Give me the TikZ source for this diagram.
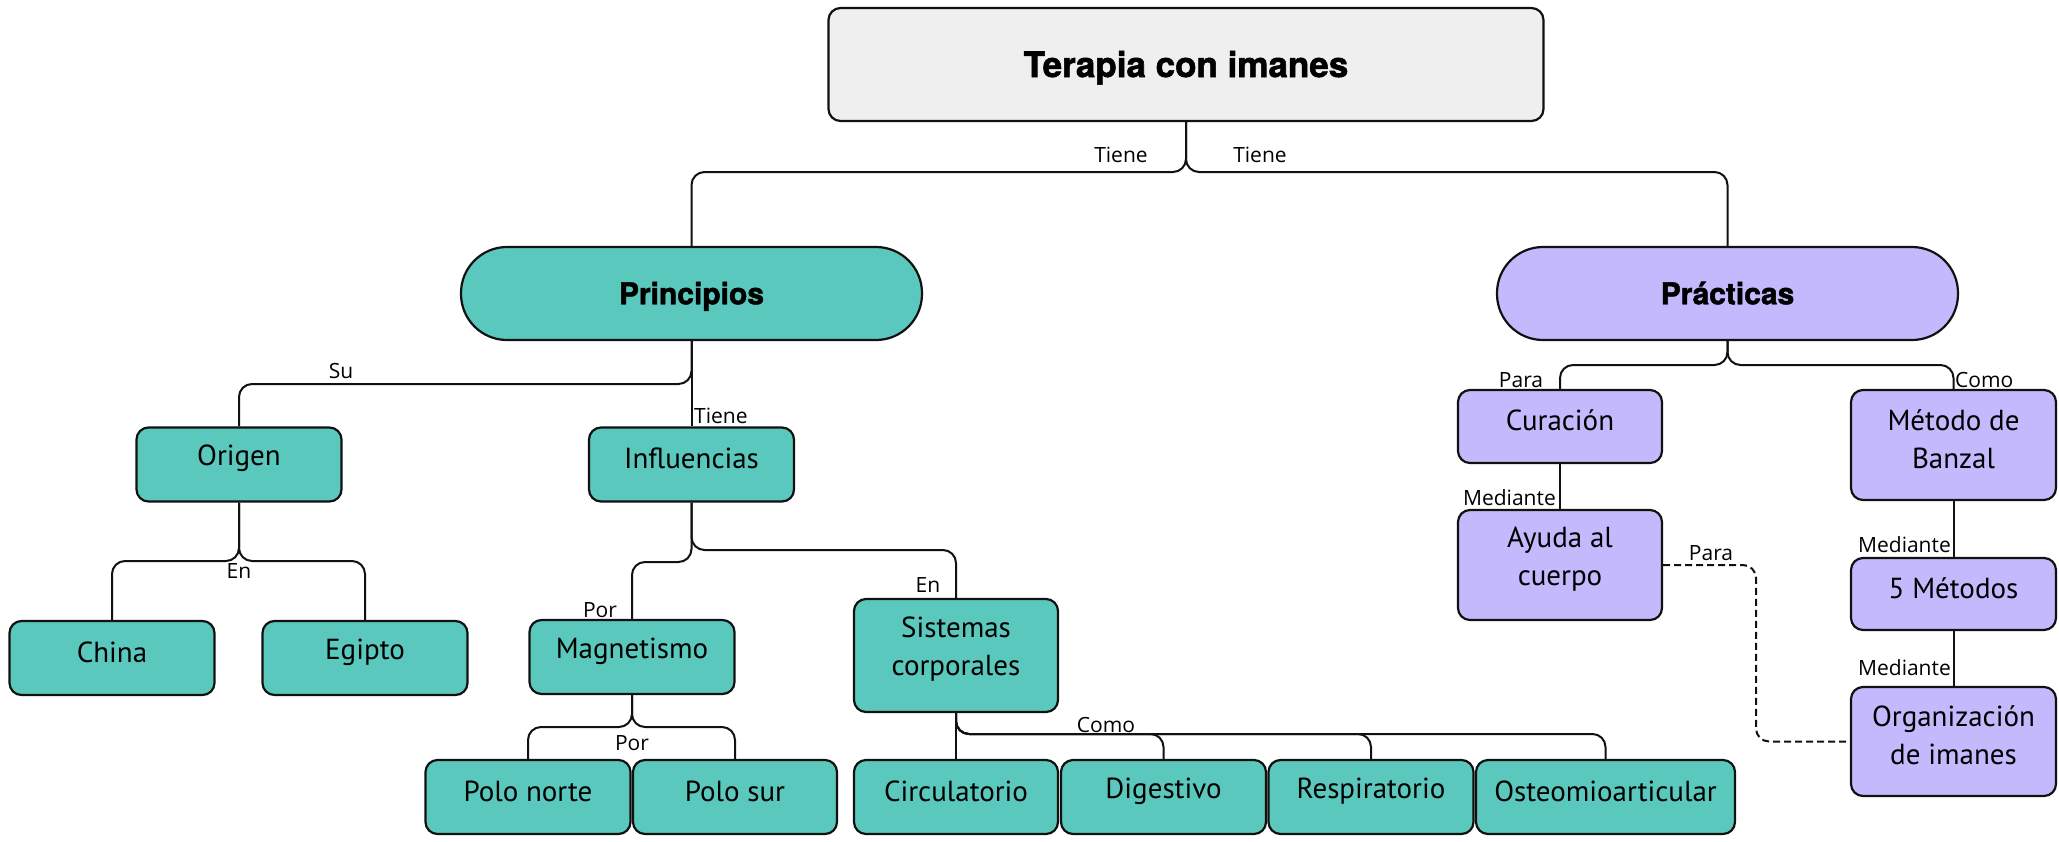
\documentclass[tikz,border=0pt]{standalone}
\usepackage{fontspec}
\setmainfont{PT Sans}
\newfontfamily\lblfont{Open Sans}
\newfontfamily\hdfont{TeX Gyre Heros}[BoldFeatures={FakeBold=1.6}]
\definecolor{tealbox}{HTML}{5BC8BD}
\definecolor{lavbox}{HTML}{C5B9FD}
\definecolor{greybox}{HTML}{EFEFEF}
\definecolor{edgecol}{HTML}{111111}
\tikzset{
  box/.style={draw=edgecol, line width=2.2pt, rounded corners=12pt, minimum width=205pt,
    minimum height=74pt, inner sep=0pt},
  btext/.style={align=center, font=\fontsize{29}{38}\selectfont, yshift=6pt, inner sep=0pt},
  tbox/.style={box, fill=tealbox},
  pbox/.style={box, fill=lavbox},
  stadium/.style={draw=edgecol, line width=2.2pt, rounded corners=46pt, minimum width=461pt,
    minimum height=93pt, inner sep=0pt, text height=21.5pt, text depth=0pt,
    font=\hdfont\bfseries\fontsize{30}{36}\selectfont},
  lbl/.style={font=\lblfont\fontsize{21}{25}\selectfont, inner sep=0pt},
  conn/.style={draw=edgecol, line width=2pt, rounded corners=13pt},
}
\begin{document}
\begin{tikzpicture}[x=1pt,y=-1pt]
\useasboundingbox (0,0) rectangle (2059,841);
% main nodes
\node[box, fill=greybox, minimum width=715pt, minimum height=113pt, text height=25pt, text depth=0pt,
      font=\hdfont\bfseries\fontsize{35}{42}\selectfont] (top) at (1186,64.5) {Terapia con imanes};
\node[stadium, fill=tealbox] (princ) at (691.5,293.5) {Principios};
\node[stadium, fill=lavbox] (prac) at (1727.5,293.5) {Prácticas};
% left side
\node[tbox, label={[btext]center:Origen}] (origen) at (239,464.5) {};
\node[tbox, label={[btext]center:Influencias}] (infl) at (691.5,464.5) {};
\node[tbox, label={[btext]center:China}] (china) at (112,658) {};
\node[tbox, label={[btext]center:Egipto}] (egipto) at (365,658) {};
\node[tbox, label={[btext]center:Magnetismo}] (magn) at (632,657) {};
\node[tbox, minimum width=204pt, minimum height=113pt, label={[btext]center:Sistemas\\corporales}] (sis) at (956,655.5) {};
\node[tbox, label={[btext]center:Polo norte}] (pn) at (528,797) {};
\node[tbox, minimum width=204pt, label={[btext]center:Polo sur}] (ps) at (735,797) {};
\node[tbox, minimum width=204pt, label={[btext]center:Circulatorio}] (circ) at (956,797) {};
\node[tbox, label={[btext]center:Digestivo}] (dig) at (1163.5,797) {};
\node[tbox, label={[btext]center:Respiratorio}] (resp) at (1371,797) {};
\node[tbox, minimum width=259pt, label={[btext]center:Osteomioarticular}] (osteo) at (1605.5,797) {};
% right side
\node[pbox, minimum width=204pt, minimum height=73pt, label={[btext]center:Curación}] (cur) at (1560,426.5) {};
\node[pbox, minimum height=110pt, label={[btext]center:Método de\\Banzal}] (met) at (1953.5,445) {};
\node[pbox, minimum width=204pt, minimum height=110pt, label={[btext]center:Ayuda al\\cuerpo}] (ayu) at (1560,565) {};
\node[pbox, minimum height=72pt, label={[btext]center:5 Métodos}] (cinco) at (1953.5,594) {};
\node[pbox, minimum height=109pt, label={[btext]center:Organización\\de imanes}] (org) at (1953.5,741.5) {};
% connectors
\draw[conn] (top.south) -- (1186,172) -- (691.5,172) -- (princ.north);
\draw[conn] (top.south) -- (1186,172) -- (1727.5,172) -- (prac.north);
\draw[conn] (princ.south) -- (691.5,384) -- (239,384) -- (origen.north);
\draw[conn] (princ.south) -- (infl.north);
\draw[conn] (origen.south) -- (239,561) -- (112,561) -- (china.north);
\draw[conn] (origen.south) -- (239,561) -- (365,561) -- (egipto.north);
\draw[conn] (infl.south) -- (691.5,562) -- (632,562) -- (magn.north);
\draw[conn] (infl.south) -- (691.5,550) -- (956,550) -- (sis.north);
\draw[conn] (magn.south) -- (632,727) -- (528,727) -- (pn.north);
\draw[conn] (magn.south) -- (632,727) -- (735,727) -- (ps.north);
\draw[conn] (sis.south) -- (circ.north);
\draw[conn] (sis.south) -- (956,734) -- (1163.5,734) -- (dig.north);
\draw[conn] (sis.south) -- (956,734) -- (1371,734) -- (resp.north);
\draw[conn] (sis.south) -- (956,734) -- (1605.5,734) -- (osteo.north);
\draw[conn] (prac.south) -- (1727.5,365) -- (1560,365) -- (cur.north);
\draw[conn] (prac.south) -- (1727.5,365) -- (1953.5,365) -- (met.north);
\draw[conn] (cur.south) -- (ayu.north);
\draw[conn] (met.south) -- (cinco.north);
\draw[conn] (cinco.south) -- (org.north);
\draw[conn, dash pattern=on 7pt off 4pt] (ayu.east) -- (1756,565) -- (1756,741.5) -- (org.west);
% connector labels
\node[lbl, anchor=base] (lt1) at (1121,162) {Tiene};
\node[lbl, anchor=base] (lt2) at (1260,162) {Tiene};
\node[lbl, anchor=base] (lsu) at (341,378) {Su};
\node[lbl, anchor=base west] (lt3) at (694,423) {Tiene};
\node[lbl, anchor=base] (len1) at (239,578) {En};
\node[lbl, anchor=base] (lpor1) at (600,617) {Por};
\node[lbl, anchor=base] (len2) at (928,592) {En};
\node[lbl, anchor=base] (lpor2) at (632,750) {Por};
\node[lbl, anchor=base] (lcomo1) at (1106,732) {Como};
\node[lbl, anchor=base] (lpara1) at (1521,387) {Para};
\node[lbl, anchor=base west] (lcomo2) at (1955,387) {Como};
\node[lbl, anchor=base east] (lmed1) at (1556,505) {Mediante};
\node[lbl, anchor=base east] (lmed2) at (1951,552) {Mediante};
\node[lbl, anchor=base east] (lmed3) at (1951,675) {Mediante};
\node[lbl, anchor=base] (lpara2) at (1711,560) {Para};
\end{tikzpicture}
\end{document}
